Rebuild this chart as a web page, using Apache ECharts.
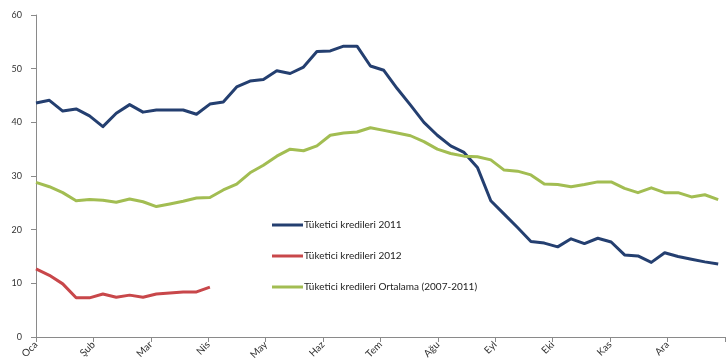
<!DOCTYPE html>
<html>
<head>
<meta charset="utf-8">
<script src="https://cdn.jsdelivr.net/npm/echarts@6/dist/echarts.min.js"></script>
<style>
  html, body { margin: 0; padding: 0; background: #ffffff; }
  #chart { width: 727px; height: 364px; }
</style>
</head>
<body>
<div id="chart"></div>
<script>
// Month labels placed at the start of each month on the weekly axis
const months = ['Oca', 'Şub', 'Mar', 'Nis', 'May', 'Haz', 'Tem', 'Ağu', 'Eyl', 'Eki', 'Kas', 'Ara'];

// Weekly values, one entry per week
const kredi2011 = [
  43.6, 44.1, 42.1, 42.5, 41.2, 39.2, 41.7, 43.3, 41.9, 42.3, 42.3, 42.3, 41.5,
  43.4, 43.8, 46.6, 47.7, 48.0, 49.6, 49.1, 50.3, 53.2, 53.3, 54.2, 54.2, 50.5,
  49.7, 46.3, 43.2, 40.0, 37.6, 35.6, 34.4, 31.6, 25.4, 22.9, 20.4, 17.8, 17.5,
  16.8, 18.3, 17.4, 18.4, 17.7, 15.3, 15.1, 13.9, 15.7, 15.0, 14.5, 14.0, 13.6
];
const kredi2012 = [
  12.7, 11.5, 9.9, 7.3, 7.3, 8.0, 7.4, 7.8, 7.4, 8.0, 8.2, 8.4, 8.4, 9.3
];
const krediOrtalama = [
  28.8, 28.0, 26.9, 25.4, 25.6, 25.5, 25.1, 25.7, 25.2, 24.3, 24.8, 25.3, 25.9,
  26.0, 27.4, 28.5, 30.6, 32.0, 33.7, 35.0, 34.7, 35.6, 37.6, 38.0, 38.2, 39.0,
  38.5, 38.0, 37.5, 36.4, 35.0, 34.2, 33.7, 33.6, 33.0, 31.1, 30.9, 30.2, 28.5,
  28.4, 28.0, 28.4, 28.9, 28.9, 27.7, 26.9, 27.8, 26.9, 26.9, 26.1, 26.5, 25.6
];
const yTicks = { min: 0, max: 60, step: 10 };

// Axis runs over the year in weeks; month ticks split it into twelve parts
const axisWeeks = 51.5;
const monthStep = axisWeeks / 12;

const toPairs = arr => arr.map((v, i) => [i, v]);

const axisColor = '#8a8a8a';
const textColor = '#333333';
const fontFamily = 'Lato, "Open Sans", sans-serif';

const chart = echarts.init(document.getElementById('chart'), null, { renderer: 'canvas' });

chart.setOption({
  animation: false,
  backgroundColor: '#ffffff',
  textStyle: { fontFamily: fontFamily },
  grid: { left: 36, right: 0, top: 15, bottom: 27, containLabel: false },
  legend: {
    orient: 'vertical',
    left: 267,
    top: 215,
    itemGap: 21,
    itemWidth: 31,
    itemHeight: 3,
    icon: 'rect',
    textStyle: { fontSize: 10, color: '#222', fontFamily: fontFamily, padding: [0, 0, 0, -4] },
    data: ['Tüketici kredileri 2011', 'Tüketici kredileri 2012', 'Tüketici kredileri Ortalama (2007-2011)']
  },
  xAxis: {
    type: 'value',
    min: 0,
    max: axisWeeks,
    interval: monthStep,
    splitLine: { show: false },
    axisLine: { show: true, onZero: false, lineStyle: { color: axisColor, width: 1 } },
    axisTick: { show: true, length: 5, lineStyle: { color: axisColor } },
    axisLabel: {
      rotate: 45,
      margin: 6,
      fontSize: 10,
      color: textColor,
      showMaxLabel: false,
      formatter: v => months[Math.round(v / monthStep)] || ''
    }
  },
  yAxis: {
    type: 'value',
    min: yTicks.min,
    max: yTicks.max,
    interval: yTicks.step,
    splitLine: { show: false },
    axisLine: { show: true, lineStyle: { color: axisColor, width: 1 } },
    axisTick: { show: true, length: 5, lineStyle: { color: axisColor } },
    axisLabel: { fontSize: 9, color: textColor, margin: 14 }
  },
  series: [
    {
      name: 'Tüketici kredileri 2011',
      type: 'line',
      data: toPairs(kredi2011),
      showSymbol: false,
      symbol: 'none',
      clip: false,
      color: '#243f70',
      lineStyle: { width: 3, color: '#243f70', join: 'round' }
    },
    {
      name: 'Tüketici kredileri 2012',
      type: 'line',
      data: toPairs(kredi2012),
      showSymbol: false,
      symbol: 'none',
      clip: false,
      color: '#c8474a',
      lineStyle: { width: 3, color: '#c8474a', join: 'round' }
    },
    {
      name: 'Tüketici kredileri Ortalama (2007-2011)',
      type: 'line',
      data: toPairs(krediOrtalama),
      showSymbol: false,
      symbol: 'none',
      clip: false,
      color: '#a2bd52',
      lineStyle: { width: 3, color: '#a2bd52', join: 'round' }
    }
  ]
});
</script>
</body>
</html>
